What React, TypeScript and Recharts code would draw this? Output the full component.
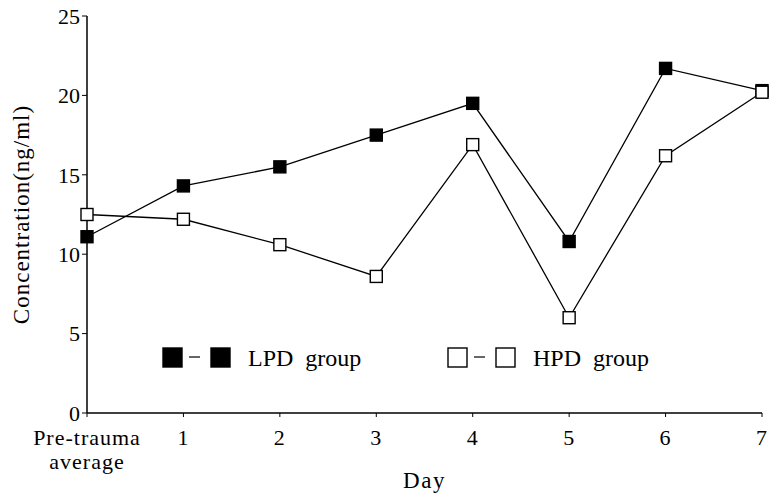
import React from 'react'
import { LineChart, Line, XAxis, YAxis } from 'recharts'

const categories = ['Pre-trauma|average', '1', '2', '3', '4', '5', '6', '7']
const lpd = [11.1, 14.3, 15.5, 17.5, 19.5, 10.8, 21.7, 20.3]
const hpd = [12.5, 12.2, 10.6, 8.6, 16.9, 6.0, 16.2, 20.2]
const yTicks = [0, 5, 10, 15, 20, 25]

const data = categories.map((c, i) => ({ day: i, lpd: lpd[i], hpd: hpd[i] }))

const FONT = '"Liberation Serif", "DejaVu Serif", serif'

function SquareDot({ cx, cy, filled }: { cx?: number; cy?: number; filled: boolean }) {
  if (cx == null || cy == null) return null
  const s = 12
  return (
    <rect x={cx - s / 2} y={cy - s / 2} width={s} height={s}
      fill={filled ? '#000' : '#fff'} stroke="#000" strokeWidth={1.4} />
  )
}

function XTick({ x, y, payload }: { x?: number; y?: number; payload?: { value: number } }) {
  const lines = categories[payload?.value ?? 0].split('|')
  return (
    <text x={x} y={(y ?? 0) + 26} textAnchor="middle" fontFamily={FONT} fontSize={22} letterSpacing={1} fill="#000">
      {lines.map((l, i) => (
        <tspan key={i} x={x} dy={i === 0 ? 0 : 24}>{l}</tspan>
      ))}
    </text>
  )
}

function LegendItem({ filled, label, left }: { filled: boolean; label: string; left: number }) {
  return (
    <div style={{ position: 'absolute', left, top: 347, display: 'flex', alignItems: 'center' }}>
      <svg width={72} height={22}>
        <rect x={1} y={1} width={19} height={19} fill={filled ? '#000' : '#fff'} stroke="#000" strokeWidth={1.4} />
        <line x1={27} y1={10} x2={38} y2={10} stroke="#000" strokeWidth={1.2} />
        <rect x={49} y={1} width={19} height={19} fill={filled ? '#000' : '#fff'} stroke="#000" strokeWidth={1.4} />
      </svg>
      <span style={{ fontFamily: FONT, fontSize: 24, marginLeft: 14, color: '#000', whiteSpace: 'pre', lineHeight: '22px' }}>{label}</span>
    </div>
  )
}

export default function App() {
  return (
    <div style={{ position: 'absolute', left: 0, top: 0, width: 769, height: 494, background: '#fff' }}>
      <LineChart width={769} height={494} data={data} margin={{ top: 16, right: 7, bottom: 21, left: 0 }}>
        <XAxis dataKey="day" type="number" domain={[0, 7]} ticks={[0, 1, 2, 3, 4, 5, 6, 7]}
          height={60} tick={<XTick />} tickSize={4}
          axisLine={{ stroke: '#000', strokeWidth: 1.5 }} tickLine={{ stroke: '#000' }}
          label={{ value: 'Day', position: 'insideBottom', offset: -15, fontFamily: FONT, fontSize: 23, letterSpacing: 1.5, fill: '#000' }} />
        <YAxis type="number" domain={[0, 25]} ticks={yTicks} width={87} tickSize={5}
          axisLine={{ stroke: '#000', strokeWidth: 1.5 }} tickLine={{ stroke: '#000' }}
          tick={{ fontFamily: FONT, fontSize: 22, fill: '#000' }}
          label={{ value: 'Concentration(ng/ml)', angle: -90, position: 'insideLeft', offset: 21, dy: 0,
            style: { textAnchor: 'middle', fontFamily: FONT, fontSize: 23, letterSpacing: 1, fill: '#000' } }} />
        <Line dataKey="lpd" stroke="#000" strokeWidth={1.3} isAnimationActive={false}
          dot={(p: any) => <SquareDot key={`l${p.index}`} cx={p.cx} cy={p.cy} filled />} />
        <Line dataKey="hpd" stroke="#000" strokeWidth={1.3} isAnimationActive={false}
          dot={(p: any) => <SquareDot key={`h${p.index}`} cx={p.cx} cy={p.cy} filled={false} />} />
      </LineChart>
      <LegendItem filled label="LPD  group" left={162} />
      <LegendItem filled={false} label="HPD  group" left={447} />
    </div>
  )
}
